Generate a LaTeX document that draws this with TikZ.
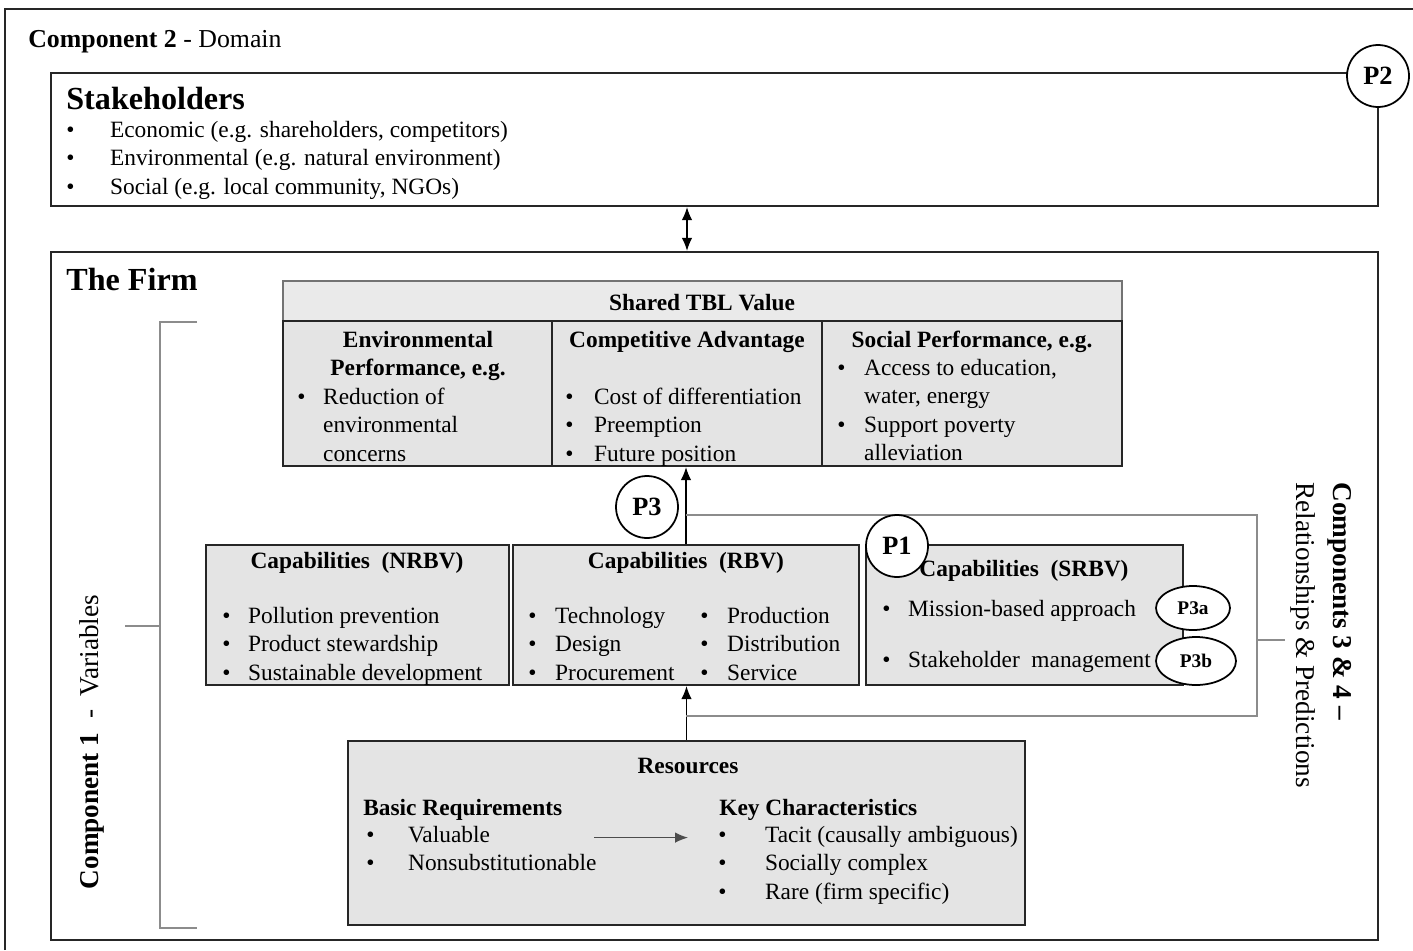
\documentclass[tikz,border=0pt]{standalone}
\usepackage{fontspec}
\setmainfont{Liberation Serif}
\usepackage{xcolor}
\usetikzlibrary{fit,positioning,arrows.meta,shapes.geometric}
\definecolor{boxgray}{HTML}{E4E4E4}
\definecolor{headgray}{HTML}{EAEAEA}
\definecolor{linegray}{HTML}{8C8C8C}
\newcommand{\bodyfont}{\fontsize{13.3}{16.3}\selectfont}
\newcommand{\bul}[1][15pt]{\makebox[#1][l]{\textbullet}}
\newcommand{\nob}[1][15pt]{\makebox[#1][l]{}}
\tikzset{
    frame-box/.style = {draw=black!85, line width=1.3pt, inner sep=0pt},
    gray-box/.style = {draw=black!85, fill=boxgray, line width=1.3pt, inner sep=0pt},
    head-box/.style = {draw=black!55, fill=headgray, line width=0.8pt, inner sep=0pt},
    thin-line/.style = {draw=linegray, line width=0.7pt},
    arrow/.style = {-{Latex[length=2.6mm, width=2.1mm]}, line width=0.7pt},
    double-arrow/.style = {{Latex[length=2.6mm, width=2.1mm]}-{Latex[length=2.6mm, width=2.1mm]}, line width=0.7pt},
    txt/.style = {font=\bodyfont, inner sep=0pt},
    ttl/.style = {font=\bodyfont\bfseries, inner sep=0pt},
    big-title/.style = {font=\fontsize{18.3}{22}\selectfont\bfseries, inner sep=0pt},
    side-label/.style = {font=\fontsize{15.5}{21}\selectfont, inner sep=0pt},
    p-circle/.style = {draw, fill=white, circle, line width=1pt, minimum size=1.24cm, inner sep=0pt, font=\fontsize{15}{18}\selectfont\bfseries},
    p-oval/.style = {draw, fill=white, ellipse, line width=1pt, inner sep=0pt, font=\fontsize{11}{13}\selectfont\bfseries},
}

\begin{document}
\begin{tikzpicture}[x=0.02cm, y=-0.02cm]
\useasboundingbox (0,0) rectangle (1413,950);
\draw[black!85, line width=1.3pt] (5,950) -- (5,9) -- (1413,9);
\node[anchor=base west, inner sep=0pt, font=\fontsize{14.7}{17}\selectfont] (comp2) at (28,47) {\textbf{Component 2} - Domain};

% stakeholders
\node[frame-box, fit={(51,73) (1378,206)}] (stake) {};
\node[big-title, anchor=base west] (stake-title) at (66,109) {Stakeholders};
\node[txt, anchor=base west] (stake-list) at (66,137) {\begin{tabular}[t]{@{}l@{}}
    \bul[24.9pt]Economic (e.g. shareholders, competitors)\\
    \bul[24.9pt]Environmental\ (e.g. natural\ environment)\\
    \bul[24.9pt]Social (e.g. local community,\ NGOs)
\end{tabular}};
\node[p-circle] (p2) at (1378,76) {P2};

% the firm
\node[frame-box, fit={(51,252) (1378,940)}] (firm) {};
\node[big-title, anchor=base west] (firm-title) at (66,290) {The Firm};

% shared TBL value
\node[head-box, fit={(283,281) (1122,321)}] (tbl-head) {};
\node[ttl, anchor=base] at (702,310) {Shared TBL Value};
\node[gray-box, fit={(283,321) (552,466)}] (env) {};
\node[gray-box, fit={(552,321) (822,466)}] (comp) {};
\node[gray-box, fit={(822,321) (1122,466)}] (social) {};
\node[ttl, anchor=base] (env-title) at (418,347) {\begin{tabular}[t]{@{}c@{}}Environmental\\Performance, e.g.\end{tabular}};
\node[txt, anchor=base west] (env-list) at (297,404) {\begin{tabular}[t]{@{}l@{}}
    \bul[14.7pt]Reduction of\\ \nob[14.7pt]environmental\\ \nob[14.7pt]concerns
\end{tabular}};
\node[ttl, anchor=base] (comp-title) at (687,347) {Competitive Advantage};
\node[txt, anchor=base west] (comp-list) at (565,404) {\begin{tabular}[t]{@{}l@{}}
    \bul[16.4pt]Cost of differentiation\\ \bul[16.4pt]Preemption\\ \bul[16.4pt]Future position
\end{tabular}};
\node[ttl, anchor=base] (social-title) at (972,347) {Social Performance,\ e.g.};
\node[txt, anchor=base west] (social-list) at (837,375) {\begin{tabular}[t]{@{}l@{}}
    \bul[15.3pt]Access to education,\\ \nob[15.3pt]water, energy\\
    \bul[15.3pt]Support poverty\\ \nob[15.3pt]alleviation
\end{tabular}};

% capabilities
\node[gray-box, fit={(206,545) (509,685)}] (nrbv) {};
\node[gray-box, fit={(513,545) (859,685)}] (rbv) {};
\node[gray-box, fit={(866,545) (1183,685)}] (srbv) {};
\node[ttl, anchor=base] (nrbv-title) at (357,568) {Capabilities\ \ (NRBV)};
\node[txt, anchor=base west] (nrbv-list) at (222,623) {\begin{tabular}[t]{@{}l@{}}
    \bul[14.7pt]Pollution prevention\\ \bul[14.7pt]Product stewardship\\ \bul[14.7pt]Sustainable development
\end{tabular}};
\node[ttl, anchor=base] (rbv-title) at (686,568) {Capabilities\ \ (RBV)};
\node[txt, anchor=base west] (rbv-list-a) at (528,623) {\begin{tabular}[t]{@{}l@{}}
    \bul[15.3pt]Technology\\ \bul[15.3pt]Design\\ \bul[15.3pt]Procurement
\end{tabular}};
\node[txt, anchor=base west] (rbv-list-b) at (700,623) {\begin{tabular}[t]{@{}l@{}}
    \bul[15.3pt]Production\\ \bul[15.3pt]Distribution\\ \bul[15.3pt]Service
\end{tabular}};
\node[ttl, anchor=base] (srbv-title) at (1024,576) {Capabilities\ \ (SRBV)};
\node[txt, anchor=base west] (srbv-list) at (882,616) {\begin{tabular}[t]{@{}l@{}}
    \bul[14.7pt]Mission-based approach\\[13.2pt] \bul[14.7pt]Stakeholder\ \ management
\end{tabular}};

% resources
\node[gray-box, fit={(348,741) (1025,925)}] (res) {};
\node[ttl, anchor=base] (res-title) at (688,773) {Resources};
\node[ttl, anchor=base west] (basic-title) at (363,815) {Basic Requirements};
\node[txt, anchor=base west] (basic-list) at (366,842) {\begin{tabular}[t]{@{}l@{}}
    \bul[23.8pt]Valuable\\ \bul[23.8pt]Nonsubstitutionable
\end{tabular}};
\node[ttl, anchor=base west] (key-title) at (719,815) {Key Characteristics};
\node[txt, anchor=base west] (key-list) at (718,842) {\begin{tabular}[t]{@{}l@{}}
    \bul[26.6pt]Tacit (causally ambiguous)\\ \bul[26.6pt]Socially complex\\ \bul[26.6pt]Rare (firm specific)
\end{tabular}};
\draw[arrow, draw=black!70] ([yshift=-0.32cm, xshift=-0.05cm]basic-list.north east) -- ([yshift=-0.32cm, xshift=-0.6cm]key-list.north west);

% connectors
\draw[double-arrow] (comp.south |- stake.south) -- (comp.south |- firm.north);
\draw[arrow] (rbv.north) -- (rbv.north |- comp.south);
\draw[arrow] (res.north) -- (res.north |- rbv.south);
\coordinate (loop-top) at (686,515);
\coordinate (loop-bot) at (686,716);
\coordinate (loop-tick) at (1285,640);
\draw[thin-line] (loop-top) -| (1257,716) -- (loop-bot);
\draw[thin-line] (1257,640) -- (loop-tick);

% bracket
\draw[thin-line] (197,322) -- (160,322) -- (160,928) -- (197,928);
\draw[thin-line] (160,626) -- (125,626);
\node[side-label, rotate=90] (comp1) at (92,742) {\textbf{Component 1}\ \ -\ \ Variables};
\node[side-label, rotate=-90, anchor=north west, align=left] (comp34) at (1352,482) {\textbf{Components 3 \& 4 –}\\Relationships \& Predictions};

% propositions
\node[p-circle] (p3) at (647,507) {P3};
\node[p-circle] (p1) at (897,546) {P1};
\node[p-oval, minimum width=1.48cm, minimum height=0.88cm] (p3a) at (1193,608) {P3a};
\node[p-oval, minimum width=1.6cm, minimum height=0.96cm] (p3b) at (1196,661) {P3b};
\end{tikzpicture}
\end{document}
